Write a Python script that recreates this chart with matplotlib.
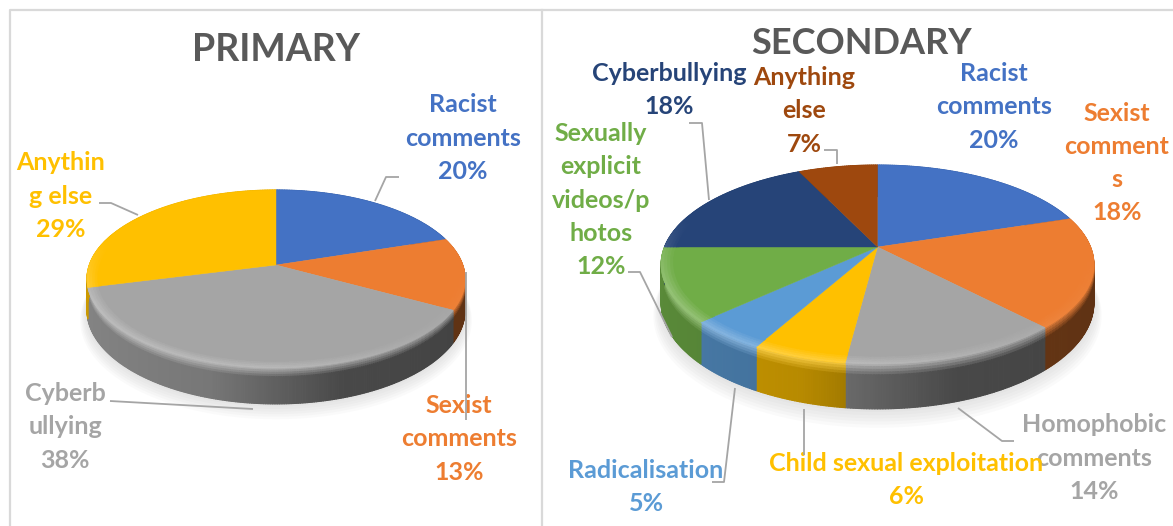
import numpy as np
import matplotlib
matplotlib.use("Agg")
import matplotlib.pyplot as plt
from matplotlib.collections import PolyCollection
from matplotlib.colors import to_rgb

# chart data
primary_labels = ["Racist\ncomments", "Sexist\ncomments", "Cyberb\nullying", "Anythin\ng else"]
primary_values = [20, 13, 38, 29]
primary_colors = ["#4472C4", "#ED7D31", "#A5A5A5", "#FFC000"]

secondary_labels = ["Racist\ncomments", "Sexist\ncomment\ns", "Homophobic\ncomments",
                    "Child sexual exploitation", "Radicalisation",
                    "Sexually\nexplicit\nvideos/p\nhotos", "Cyberbullying", "Anything\nelse"]
secondary_values = [20, 18, 14, 6, 5, 12, 18, 7]
secondary_colors = ["#4472C4", "#ED7D31", "#A5A5A5", "#FFC000",
                    "#5B9BD5", "#70AD47", "#264478", "#9E480E"]

# layout, in pixels of the 1173x526 picture
primary_label_pos = [(463, 138), (459, 439), (65, 427), (61, 196)]
secondary_label_pos = [(994, 107), (1117, 163), (1094, 458), (906, 480),
                       (646, 487), (601, 200), (669, 90), (804, 111)]
primary_leaders = [
    [(375, 201), (386, 177), (399, 177)],
    [(465.5, 272), (465.5, 419.5)],
    [(253, 409), (110, 401)],
    [(138, 215), (111, 203), (99, 203)],
]
secondary_leaders = [
    [(958, 408), (1002, 441), (1014, 441)],
    [(804, 409), (804, 455)],
    [(735, 388), (724, 482), (712, 482)],
    [(672, 337), (640, 272), (628, 272)],
    [(709, 200), (702, 123), (689, 123)],
    [(837, 164), (837, 150), (824, 150)],
]

plt.rcParams["font.family"] = ["Lato", "DejaVu Sans"]


def project(theta, r, d, pie):
    # perspective view of a flat disc, theta runs clockwise from the top
    cx, ay, a, b, k, depth = pie
    u = r * np.sin(theta)
    v = -r * np.cos(theta)
    w = 1 - k * v
    return np.column_stack([cx + a * u / w, ay + b * v / w + depth * d / w])


def mix(c1, c2, t):
    return tuple((1 - t) * np.array(c1) + t * np.array(c2))


def glow_at(um, vm):
    return np.clip((vm + 0.3) / 0.7, 0, 1) * np.interp(um, [-1, 0, 0.6, 1], [1, 0.85, 0.3, 0.05])


def draw_pie(ax, values, colors, pie):
    total = float(sum(values))
    edges = np.cumsum([0] + list(values)) / total * 2 * np.pi
    apex = (pie[0], pie[1])

    # soft shadow under the disc
    grid = np.linspace(0, 2 * np.pi, 240)
    for r, d in zip(np.linspace(1.035, 1.0, 7), np.linspace(1.3, 1.0, 7)):
        ax.fill(*project(grid, r, d, pie).T, color="#808080", alpha=0.035, lw=0, zorder=1)

    polys, cols = [], []
    tops = []
    for i, c in enumerate(colors):
        base = to_rgb(c)
        n = max(int((edges[i + 1] - edges[i]) / np.radians(0.6)), 2)
        th = np.linspace(edges[i], edges[i + 1], n + 1)
        tops.append((np.vstack([apex, project(th, 1, 0, pie)]), base))
        for t0, t1 in zip(th[:-1], th[1:]):
            tm = (t0 + t1) / 2
            um, vm = np.sin(tm), -np.cos(tm)
            dark = np.interp(um, [-1, -0.3, 0.3, 1], [0.8, 0.72, 0.44, 0.4])
            shade = tuple(np.array(base) * dark)
            light = mix(base, (1, 1, 1), 0.32 * glow_at(um, vm))
            # the wall, top to bottom
            steps = np.array([0, 0.06, 0.12, 0.18, 0.24, 0.3, 1.0])
            for s0, s1 in zip(steps[:-1], steps[1:]):
                polys.append(np.vstack([project(np.array([t0, t1]), 1, s0, pie),
                                        project(np.array([t1, t0]), 1, s1, pie)]))
                cols.append(mix(light, shade, min(s1 / 0.3, 1)))
    ax.add_collection(PolyCollection(polys, facecolors=cols, edgecolors=cols, linewidths=0.8, zorder=2))

    for poly, base in tops:
        ax.fill(*poly.T, color=base, lw=0.3, zorder=3)

    # rounded edge on the near rim of the top face
    polys, cols = [], []
    for i, c in enumerate(colors):
        base = to_rgb(c)
        n = max(int((edges[i + 1] - edges[i]) / np.radians(0.6)), 2)
        th = np.linspace(edges[i], edges[i + 1], n + 1)
        for t0, t1 in zip(th[:-1], th[1:]):
            tm = (t0 + t1) / 2
            glow = glow_at(np.sin(tm), -np.cos(tm))
            if glow <= 0:
                continue
            rs = np.linspace(1, 0.93, 6)
            for r0, r1 in zip(rs[:-1], rs[1:]):
                polys.append(np.vstack([project(np.array([t0, t1]), r0, 0, pie),
                                        project(np.array([t1, t0]), r1, 0, pie)]))
                cols.append(mix(base, (1, 1, 1), 0.32 * glow * (r1 - 0.93) / 0.07))
    ax.add_collection(PolyCollection(polys, facecolors=cols, edgecolors=cols, linewidths=0.5, zorder=4))


def draw_labels(ax, labels, values, colors, positions):
    for lab, val, c, (x, y) in zip(labels, values, colors, positions):
        ax.text(x, y, "{}\n{}%".format(lab, val), color=c, fontsize=18, fontweight="bold",
                ha="center", va="center", linespacing=1.53, zorder=6)


def draw_leaders(ax, leaders):
    for pts in leaders:
        xs, ys = zip(*pts)
        ax.plot(xs, ys, color="#A5A5A5", lw=1.3, zorder=7, solid_capstyle="butt")


fig = plt.figure(figsize=(11.73, 5.26), dpi=100)
ax = fig.add_axes([0, 0, 1, 1])
ax.set_xlim(0, 1173)
ax.set_ylim(526, 0)
ax.axis("off")

# panel frame
ax.plot([1173, 10, 10], [10, 10, 526], color="#D9D9D9", lw=1.6)
ax.plot([542, 542], [10, 526], color="#D9D9D9", lw=1.6)

# cx, apex y, a, b, k, depth
primary_pie = (276, 265, 186.7, 86.8, 0.157, 30.3)
secondary_pie = (877.5, 247, 213, 96.4, 0.176, 37)

draw_pie(ax, primary_values, primary_colors, primary_pie)
draw_pie(ax, secondary_values, secondary_colors, secondary_pie)

draw_labels(ax, primary_labels, primary_values, primary_colors, primary_label_pos)
draw_labels(ax, secondary_labels, secondary_values, secondary_colors, secondary_label_pos)
draw_leaders(ax, primary_leaders)
draw_leaders(ax, secondary_leaders)

ax.text(276, 50, "PRIMARY", color="#595959", fontsize=27, fontweight="bold", ha="center", va="center")
ax.text(862, 43, "SECONDARY", color="#595959", fontsize=26, fontweight="bold", ha="center", va="center")

fig.savefig("out.png", dpi=100)
